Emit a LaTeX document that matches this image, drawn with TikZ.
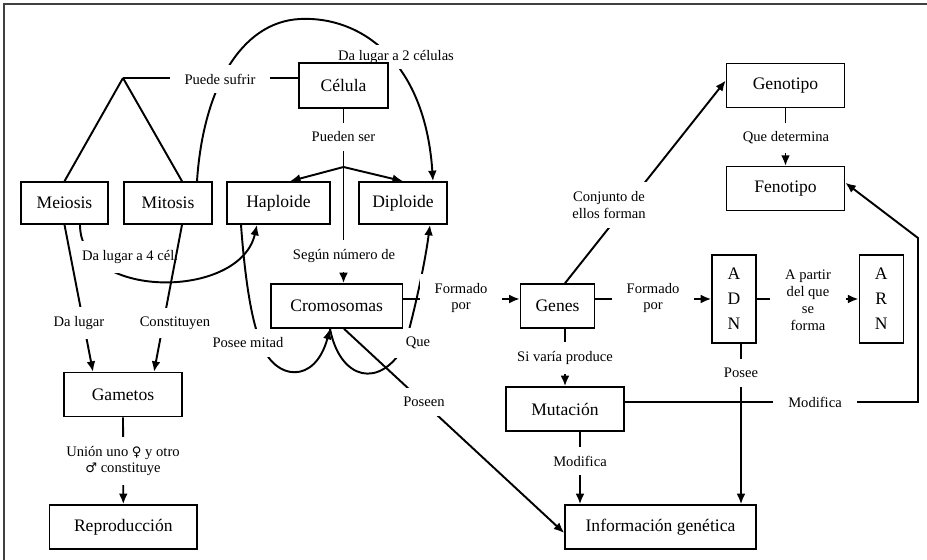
\documentclass[tikz,border=0pt]{standalone}
\usepackage{fontspec}
\setmainfont{Liberation Serif}
\newfontfamily\simbolos{DejaVu Sans}
\usetikzlibrary{arrows.meta,calc}
\pgfdeclarelayer{fondo}
\pgfsetlayers{fondo,main}
\tikzset{
  caja/.style={draw, line width=0.9pt, minimum height=0.88cm, inner sep=0pt,
    font=\fontsize{10}{14.2}\selectfont},
  etiq/.style={fill=white, inner xsep=0.3cm, inner ysep=0.18cm, align=center,
    font=\fontsize{8.3}{9.6}\selectfont},
  linea/.style={line width=1.1pt},
  flecha/.style={->, line width=1.1pt}
}
\begin{document}
\begin{tikzpicture}[x=0.02cm, y=-0.02cm, >={Latex[length=6pt,width=5pt]}]
    \useasboundingbox (0,0) rectangle (927,560);
    \draw[line width=0.9pt, black!75] (4,560) -- (4,4) -- (927,4);

    % cajas
    \node (celula) at (343.5,85.5) [caja, minimum width=1.78cm, minimum height=0.9cm] {Célula};
    \node (meiosis) at (64.5,203) [caja, minimum width=1.74cm, minimum height=0.84cm] {Meiosis};
    \node (mitosis) at (168,203) [caja, minimum width=1.76cm, minimum height=0.84cm] {Mitosis};
    \node (haploide) at (278.5,203) [caja, minimum width=2.06cm, minimum height=0.84cm] {Haploide};
    \node (diploide) at (403,203) [caja, minimum width=1.76cm, minimum height=0.84cm] {Diploide};
    \node (cromosomas) at (336.7,306) [caja, minimum width=2.64cm] {Cromosomas};
    \node (genes) at (557.5,306) [caja, minimum width=1.48cm] {Genes};
    \node (adn) at (734,299) [caja, minimum width=0.88cm, minimum height=1.76cm, align=center] {A\\D\\N};
    \node (arn) at (881.3,299) [caja, minimum width=0.88cm, minimum height=1.76cm, align=center] {A\\R\\N};
    \node (genotipo) at (785.5,85.5) [caja, minimum width=2.36cm] {Genotipo};
    \node (fenotipo) at (785.5,188.7) [caja, minimum width=2.36cm] {Fenotipo};
    \node (mutacion) at (565,409) [caja, minimum width=2.36cm] {Mutación};
    \node (informacion) at (660.5,527) [caja, minimum width=3.82cm] {Información genética};
    \node (gametos) at (123,394.7) [caja, minimum width=2.36cm] {Gametos};
    \node (reproduccion) at (123.3,527) [caja, minimum width=2.96cm] {Reproducción};

    \coordinate (vertice) at (123,78);
    \coordinate (cruce) at (343.5,167);

    \begin{pgfonlayer}{fondo}
        % conectores
        \draw[linea] (vertice) -- (meiosis.north);
        \draw[linea] (vertice) -- ($(mitosis.north)+(14,0)$);
        \draw[linea] (vertice) -- (vertice -| celula.west);
        \draw[flecha] ($(mitosis.north)+(29,0)$) .. controls (203,90) and (240,22) .. (300,19)
            .. controls (360,16) and (425,60) .. ($(diploide.north)+(30,0)$);
        \draw[linea] (celula.south) -- (cruce);
        \draw[flecha] (cruce) -- (cruce |- cromosomas.north);
        \draw[flecha] (cruce) -- ($(haploide.north)+(11.5,0)$);
        \draw[flecha] (cruce) -- (diploide.north);
        \draw[flecha] (meiosis.south) -- ($(gametos.north)+(-30,0)$);
        \draw[flecha] ($(meiosis.south)+(15.5,0)$) .. controls (80,300) and (240,300) .. ($(haploide.south)+(-21.5,0)$);
        \draw[flecha] ($(haploide.south)+(-37.5,0)$) .. controls (245,280) and (252,325) .. (262,345)
            .. controls (275,380) and (315,385) .. ($(cromosomas.south)+(-6.7,0)$);
        \draw[flecha] ($(cromosomas.south)+(-6.7,0)$) .. controls (340,380) and (380,390) .. (405,345)
            .. controls (412,320) and (424,270) .. ($(diploide.south)+(27,0)$);
        \draw[flecha] ($(cromosomas.south)+(7.3,0)$) -- ($(informacion.west)+(0,6)$);
        \draw[flecha] ($(cromosomas.east)+(0,-7)$) -- ($(genes.west)+(0,-7)$);
        \draw[flecha] ($(genes.east)+(0,-7)$) -- (adn.west);
        \draw[flecha] (adn.east) -- (arn.west);
        \draw[flecha] ($(genes.north)+(7.5,0)$) -- ($(genotipo.west)+(0,-5)$);
        \draw[flecha] (genotipo.south) -- (fenotipo.north);
        \draw[flecha] ($(genes.south)+(7.5,0)$) -- (mutacion.north);
        \draw[flecha] ($(mutacion.south)+(15,0)$) -- ($(informacion.north)+(-80.5,0)$);
        \draw[flecha] ($(adn.south)+(7,0)$) -- ($(informacion.north)+(80.5,0)$);
        \draw[flecha] ($(mutacion.east)+(0,-7)$) -| (918,238) -- ($(fenotipo.east)+(0,-6)$);
        \draw[flecha] (gametos.south) -- (reproduccion.north);

        \node (dalugar4) at (130,257) [etiq, inner xsep=2pt] {Da lugar a 4 cél.};
        \draw[flecha] ($(mitosis.south)+(14,0)$) -- ($(gametos.north)+(31,0)$);

        % etiquetas
        \node (puedesufrir) at (220,79) [etiq] {Puede sufrir};
        \node (dalugar2) at (396,57) [etiq, inner xsep=2pt, inner ysep=3pt] {Da lugar a 2 células};
        \node (puedenser) at (343.5,137) [etiq] {Pueden ser};
        \node (segun) at (344,256) [etiq] {Según número de};
        \node (dalugar) at (79,323) [etiq] {Da lugar};
        \node (constituyen) at (175,323) [etiq] {Constituyen};
        \node (poseemitad) at (248,343) [etiq] {Posee mitad};
        \node (que) at (418,343) [etiq] {Que};
        \node (poseen) at (424,402) [etiq] {Poseen};
        \node (formado1) at (461,298) [etiq] {Formado\\por};
        \node (formado2) at (653,298) [etiq] {Formado\\por};
        \node (apartir) at (808,300) [etiq] {A partir\\del que\\se\\forma};
        \node (conjunto) at (609,205) [etiq] {Conjunto de\\ellos forman};
        \node (determina) at (786,138) [etiq] {Que determina};
        \node (varia) at (565,358) [etiq] {Si varía produce};
        \node (modifica1) at (580,461) [etiq] {Modifica};
        \node (posee) at (741,373) [etiq] {Posee};
        \node (modifica2) at (815,402) [etiq] {Modifica};
        \node (union) at (123,461) [etiq] {Unión uno {\simbolos\fontsize{7.5}{9.6}\selectfont ♀} y otro\\{\simbolos\fontsize{7.5}{9.6}\selectfont ♂} constituye};
    \end{pgfonlayer}
\end{tikzpicture}
\end{document}
